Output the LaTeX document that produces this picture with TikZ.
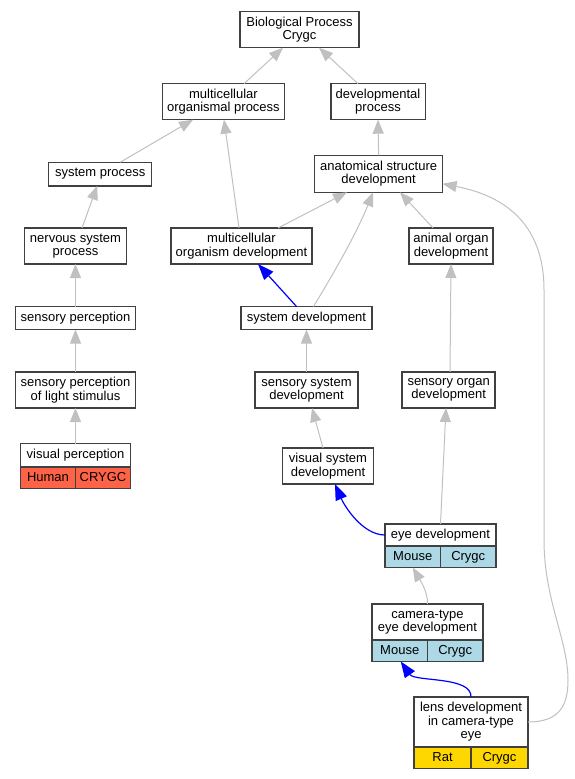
\documentclass[tikz,border=0pt]{standalone}
\usepackage{fontspec}
\setmainfont{Liberation Sans}
\usetikzlibrary{arrows.meta}
\definecolor{humanred}{RGB}{255,99,71}
\definecolor{mouseblue}{RGB}{173,216,230}
\definecolor{ratgold}{RGB}{255,215,0}
\definecolor{edgegray}{RGB}{192,192,192}

\begin{document}
\begin{tikzpicture}[x = 1pt, y = -1pt,
  term/.style = {draw = black!75, line width = 1.5pt, fill = white, align = center,
    inner sep = 1pt, outer sep = 0pt, font = \fontsize{13}{13.4}\selectfont},
  cell/.style = {term, minimum height = 21.5, text height = 9.5pt, text depth = 2.8pt},
  isa/.style = {draw = edgegray, line width = 1pt, -{Triangle[length = 14pt, width = 11pt]}},
  part/.style = {draw = blue, line width = 1.2pt, -{Triangle[length = 16pt, width = 12pt]}}]
\useasboundingbox (0,0) rectangle (574,779);
% terms
\node[term, minimum width = 119, minimum height = 36] (bp) at (299.5,29.7) {Biological Process\\Crygc};
\node[term, minimum width = 122, minimum height = 36] (mop) at (223.4,101.7) {multicellular\\organismal process};
\node[term, minimum width = 94.5, minimum height = 36] (dp) at (378,101.7) {developmental\\process};
\node[term, minimum width = 103, minimum height = 23.5] (sysp) at (100.2,174) {system process};
\node[term, minimum width = 128, minimum height = 37] (asd) at (378.6,173.8) {anatomical structure\\development};
\node[term, minimum width = 102, minimum height = 36] (nsp) at (75.5,246) {nervous system\\process};
\node[term, minimum width = 141, minimum height = 36] (mod) at (241.5,246) {multicellular\\organism development};
\node[term, minimum width = 84, minimum height = 36] (aod) at (451,246) {animal organ\\development};
\node[term, minimum width = 120, minimum height = 23] (sensp) at (75.5,318) {sensory perception};
\node[term, minimum width = 131, minimum height = 23] (sysdev) at (306.5,318) {system development};
\node[term, minimum width = 120, minimum height = 36] (spls) at (75.5,390) {sensory perception\\of light stimulus};
\node[term, minimum width = 103, minimum height = 36] (ssd) at (306.5,390) {sensory system\\development};
\node[term, minimum width = 93, minimum height = 36] (sod) at (448.7,390) {sensory organ\\development};
\node[term, minimum width = 91, minimum height = 36] (vsd) at (328,466) {visual system\\development};
% terms with annotations
\node[term, minimum width = 110, minimum height = 23.5] (vp) at (75.5,455.3) {visual perception};
\node[cell, fill = humanred, minimum width = 55, anchor = north east] (vp-a) at (vp.south) {Human};
\node[cell, fill = humanred, minimum width = 55, anchor = north west] (vp-b) at (vp.south) {CRYGC};
\node[term, minimum width = 111, minimum height = 22] (eyed) at (440.5,535) {eye development};
\node[cell, fill = mouseblue, minimum width = 55.5, anchor = north east] (eyed-a) at (eyed.south) {Mouse};
\node[cell, fill = mouseblue, minimum width = 55.5, anchor = north west] (eyed-b) at (eyed.south) {Crygc};
\node[term, minimum width = 111, minimum height = 36] (camd) at (427.5,622) {camera-type\\eye development};
\node[cell, fill = mouseblue, minimum width = 55.5, anchor = north east] (camd-a) at (camd.south) {Mouse};
\node[cell, fill = mouseblue, minimum width = 55.5, anchor = north west] (camd-b) at (camd.south) {Crygc};
\node[term, minimum width = 114, minimum height = 50] (lens) at (471,722) {lens development\\in camera-type\\eye};
\node[cell, fill = ratgold, minimum width = 57, anchor = north east] (lens-a) at (lens.south) {Rat};
\node[cell, fill = ratgold, minimum width = 57, anchor = north west] (lens-b) at (lens.south) {Crygc};
% edges
\draw[isa] ([xshift = 20.6]mop.north) -- ([xshift = -16.5]bp.south);
\draw[isa] ([xshift = -20]dp.north) -- ([xshift = 19.5]bp.south);
\draw[isa] (asd.north) -- (dp.south);
\draw[isa] ([xshift = 20]sysp.north) -- ([xshift = -30.4]mop.south);
\draw[isa] ([xshift = -2.5]mod.north) -- ([xshift = 0.6]mop.south);
\draw[isa] ([xshift = 6.5]nsp.north) -- ([xshift = -3]sysp.south);
\draw[isa] ([xshift = 36.5]mod.north) -- ([xshift = -31.6]asd.south);
\draw[isa] ([xshift = 7]sysdev.north) .. controls (337,268) and (358,230) .. ([xshift = -5.6]asd.south);
\draw[isa] ([xshift = -18]aod.north) -- ([xshift = 21.4]asd.south);
\draw[part] ([xshift = -10]sysdev.north) -- ([xshift = 16.5]mod.south);
\draw[isa] (sensp.north) -- (nsp.south);
\draw[isa] (spls.north) -- (sensp.south);
\draw[isa] (vp.north) -- (spls.south);
\draw[isa] (ssd.north) -- (sysdev.south);
\draw[isa] ([xshift = -5]vsd.north) -- ([xshift = 5.5]ssd.south);
\draw[isa] ([xshift = 1.3]sod.north) -- (aod.south);
\draw[isa] (eyed.north) -- ([xshift = -2.7]sod.south);
\draw[part] (eyed.west) .. controls (362,535) and (344,505) .. ([xshift = 7]vsd.south);
\draw[isa] (camd.north) .. controls (428,592) and (420,580) .. (eyed-a.south);
\draw[part] (lens.north) .. controls (472,676) and (415,682) .. ([xshift = 1]camd-a.south);
\draw[isa] (lens.east) .. controls (560,722) and (568,705) .. (568,680)
  .. controls (568,640) and (544,600) .. (544,540) -- (544,290)
  .. controls (544,220) and (500,195) .. ([yshift = -10]asd.east);
\end{tikzpicture}
\end{document}
